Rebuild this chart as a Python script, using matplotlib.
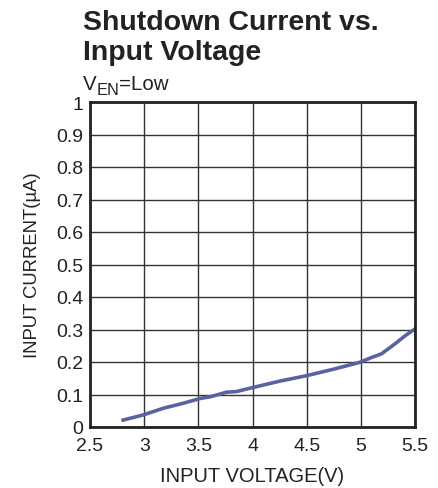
import matplotlib
matplotlib.use("Agg")
import matplotlib.pyplot as plt
from matplotlib.transforms import offset_copy

plt.rcParams['font.family'] = ['Liberation Sans', 'DejaVu Sans']

voltage = [2.79, 2.99, 3.18, 3.36, 3.52, 3.61, 3.76, 3.85, 4.01, 4.25, 4.5, 4.75, 4.99, 5.1, 5.19, 5.3, 5.41, 5.5]
current = [0.02, 0.037, 0.058, 0.073, 0.088, 0.093, 0.107, 0.109, 0.122, 0.141, 0.158, 0.178, 0.199, 0.214, 0.225, 0.252, 0.281, 0.302]
x_ticks = [2.5, 3, 3.5, 4, 4.5, 5, 5.5]
x_labels = ["2.5", "3", "3.5", "4", "4.5", "5", "5.5"]
y_ticks = [0, 0.1, 0.2, 0.3, 0.4, 0.5, 0.6, 0.7, 0.8, 0.9, 1]
y_labels = ["0", "0.1", "0.2", "0.3", "0.4", "0.5", "0.6", "0.7", "0.8", "0.9", "1"]

W, H = 439, 489
fig = plt.figure(figsize=(W/100, H/100), dpi=100)
ax = fig.add_axes([90/W, 1-428/H, 325/W, 325/H])
ax.plot(voltage, current, color='#5a63a0', lw=2.6, solid_capstyle='butt')
ax.set_xlim(2.5, 5.5)
ax.set_ylim(0, 1)
ax.set_xticks(x_ticks)
ax.set_xticklabels(x_labels)
ax.set_yticks(y_ticks)
ax.set_yticklabels(y_labels)
ax.tick_params(length=0, labelsize=14, colors='#222222')
ax.tick_params(axis='y', pad=5)
ax.tick_params(axis='x', pad=7)
ax.grid(True, color='#333333', lw=1.0)
for s in ax.spines.values():
    s.set_linewidth(2.0)
    s.set_color('#222222')
ax.set_xlabel('INPUT VOLTAGE(V)', fontsize=14.5, color='#222222', labelpad=9)
ax.set_ylabel('INPUT CURRENT(µA)', fontsize=13.3, color='#222222', labelpad=11)

fig.text(83/W, 1-30.5/H, 'Shutdown Current vs.', fontsize=20.5, fontweight='bold',
         ha='left', va='baseline', color='#222222')
fig.text(83/W, 1-60/H, 'Input Voltage', fontsize=20.5, fontweight='bold',
         ha='left', va='baseline', color='#222222')

# V_EN=Low label built from pieces
fig.canvas.draw()
r = fig.canvas.get_renderer()
t1 = fig.text(83/W, 1-90/H, 'V', fontsize=14.8, ha='left', va='baseline', color='#222222')
w1 = t1.get_window_extent(r).width
t2 = fig.text(0, 0, 'EN', fontsize=11.8, ha='left', va='baseline', color='#222222',
              transform=offset_copy(fig.transFigure, fig=fig, x=83 + w1, y=H - 95, units='dots'))
w2 = t2.get_window_extent(r).width
fig.text(0, 0, '=Low', fontsize=14.8, ha='left', va='baseline', color='#222222',
         transform=offset_copy(fig.transFigure, fig=fig, x=83 + w1 + w2, y=H - 90, units='dots'))

fig.savefig('out.png', dpi=100)
